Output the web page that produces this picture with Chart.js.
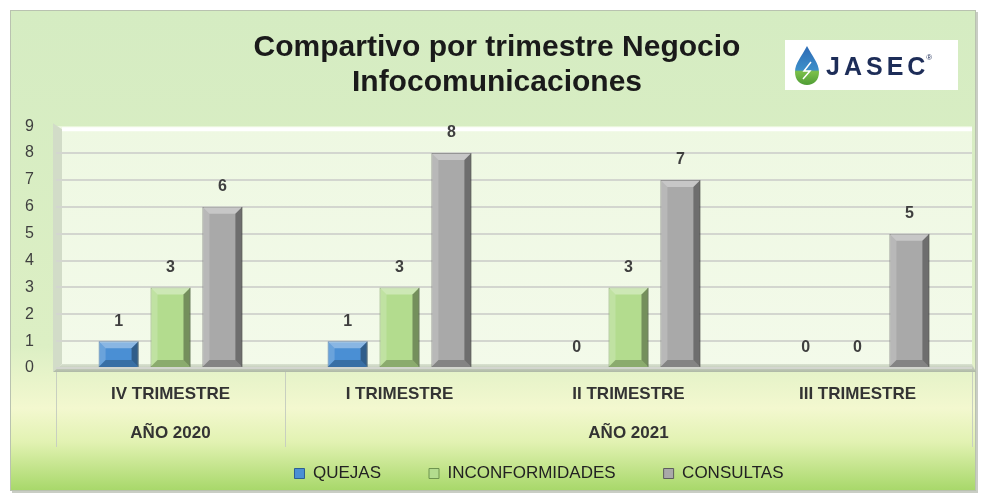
<!DOCTYPE html>
<html>
<head>
<meta charset="utf-8">
<script src="https://cdn.jsdelivr.net/npm/chart.js@4.4.1/dist/chart.umd.min.js"></script>
<style>
  html, body { margin: 0; padding: 0; background: #fff; }
  #wrap { width: 984px; height: 502px; position: relative; }
</style>
</head>
<body>
<div id="wrap"><canvas id="chart"></canvas></div>
<script>
const categories = ['IV TRIMESTRE', 'I TRIMESTRE', 'II TRIMESTRE', 'III TRIMESTRE'];
const years = ['AÑO 2020', 'AÑO 2021'];
const yearSpans = [1, 3]; // trimestres que cubre cada año
const quejas = [1, 1, 0, 0];
const inconformidades = [3, 3, 3, 0];
const consultas = [6, 8, 7, 5];
const yMax = 9;

const blue = '#4a8fd4';
const green = '#b3dc8e';
const gray = '#a9a9a9';
const font = "'Liberation Sans', Arial, sans-serif";

// fondo del marco + pared del grafico
const backdrop = {
  id: 'backdrop',
  afterLayout(chart) {
    // en el original la leyenda no esta centrada
    chart.legend.left += 42;
    chart.legend.right += 42;
  },
  beforeDraw(chart) {
    const c = chart.ctx;
    const a = chart.chartArea;
    c.save();
    c.fillStyle = '#ffffff';
    c.fillRect(0, 0, chart.width, chart.height);
    // sombra del marco
    c.fillStyle = '#c9cdc4';
    c.fillRect(12, 12, 966, 481);
    const g = c.createLinearGradient(0, 10, 0, 490);
    g.addColorStop(0, '#d5ecc2');
    g.addColorStop(0.7, '#dcefc4');
    g.addColorStop(0.83, '#f3f8cf');
    g.addColorStop(0.9, '#e2f2b2');
    g.addColorStop(1, '#a8d86a');
    c.fillStyle = g;
    c.fillRect(10, 10, 965, 480);
    c.strokeStyle = '#b9c2b0';
    c.lineWidth = 1;
    c.strokeRect(10.5, 10.5, 965, 480);

    // pared
    const w = c.createLinearGradient(0, a.top, 0, a.bottom);
    w.addColorStop(0, '#eef8e2');
    w.addColorStop(1, '#f3faea');
    c.fillStyle = w;
    c.fillRect(a.left, a.top, a.right - a.left, a.bottom - a.top);
    // pared izquierda
    c.fillStyle = '#d2dcc8';
    c.beginPath();
    c.moveTo(a.left - 3, a.top - 3);
    c.lineTo(a.left + 6, a.top + 3);
    c.lineTo(a.left + 6, a.bottom - 4);
    c.lineTo(a.left - 3, a.bottom + 4);
    c.closePath();
    c.fill();
    // piso
    const f = c.createLinearGradient(0, a.bottom - 5, 0, a.bottom + 5);
    f.addColorStop(0, '#dfe8d6');
    f.addColorStop(0.5, '#c3ccba');
    f.addColorStop(1, '#a9b3a1');
    c.fillStyle = f;
    c.beginPath();
    c.moveTo(a.left + 6, a.bottom - 4);
    c.lineTo(a.right, a.bottom - 4);
    c.lineTo(a.right + 4, a.bottom + 4);
    c.lineTo(a.left - 3, a.bottom + 4);
    c.closePath();
    c.fill();
    // borde superior blanco
    c.strokeStyle = '#ffffff';
    c.lineWidth = 4;
    c.beginPath();
    c.moveTo(a.left + 6, a.top + 3);
    c.lineTo(a.right, a.top + 3);
    c.stroke();
    c.restore();
  }
};

// relieve de las barras, etiquetas de valor, años y logo
const extras = {
  id: 'extras',
  afterDatasetsDraw(chart) {
    const c = chart.ctx;
    c.save();
    chart.data.datasets.forEach((ds, di) => {
      const meta = chart.getDatasetMeta(di);
      meta.data.forEach((bar, i) => {
        const x0 = bar.x - bar.width / 2;
        const x1 = bar.x + bar.width / 2;
        const y = bar.y;
        const b = bar.base;
        const h = b - y;
        if (h > 4) {
          const d = Math.min(7, h / 2.5);
          c.fillStyle = 'rgba(255,255,255,0.35)';
          c.beginPath();
          c.moveTo(x0, y); c.lineTo(x1, y); c.lineTo(x1 - d, y + d); c.lineTo(x0 + d, y + d);
          c.closePath(); c.fill();
          c.fillStyle = 'rgba(255,255,255,0.18)';
          c.beginPath();
          c.moveTo(x0, y); c.lineTo(x0 + d, y + d); c.lineTo(x0 + d, b - d); c.lineTo(x0, b);
          c.closePath(); c.fill();
          c.fillStyle = 'rgba(0,0,0,0.35)';
          c.beginPath();
          c.moveTo(x1, y); c.lineTo(x1 - d, y + d); c.lineTo(x1 - d, b - d); c.lineTo(x1, b);
          c.closePath(); c.fill();
          c.fillStyle = 'rgba(0,0,0,0.22)';
          c.beginPath();
          c.moveTo(x0, b); c.lineTo(x1, b); c.lineTo(x1 - d, b - d); c.lineTo(x0 + d, b - d);
          c.closePath(); c.fill();
        }
        c.fillStyle = '#3f3f3f';
        c.font = 'bold 16px ' + font;
        c.textAlign = 'center';
        c.textBaseline = 'middle';
        c.fillText(String(ds.data[i]), bar.x, y - 20);
      });
    });
    c.restore();
  },
  afterDraw(chart) {
    const c = chart.ctx;
    const a = chart.chartArea;
    const xs = chart.scales.x;
    c.save();
    // separadores de años y etiquetas de año
    const step = xs.getPixelForValue(1) - xs.getPixelForValue(0);
    let start = 0;
    c.strokeStyle = '#c8cfc0';
    c.lineWidth = 1;
    const edges = [xs.getPixelForValue(0) - step / 2];
    years.forEach((yr, k) => {
      const end = start + yearSpans[k] - 1;
      const left = xs.getPixelForValue(start) - step / 2;
      const right = xs.getPixelForValue(end) + step / 2;
      edges.push(right);
      c.fillStyle = '#333333';
      c.font = 'bold 17px ' + font;
      c.textAlign = 'center';
      c.textBaseline = 'middle';
      c.fillText(yr, (left + right) / 2, a.bottom + 65);
      start = end + 1;
    });
    edges.forEach(ex => {
      const px = Math.round(ex) + 0.5;
      c.beginPath();
      c.moveTo(px, a.bottom + 4);
      c.lineTo(px, a.bottom + 79);
      c.stroke();
    });

    // logo
    c.fillStyle = '#ffffff';
    c.fillRect(785, 40, 173, 50);
    const dg = c.createLinearGradient(0, 50, 0, 86);
    dg.addColorStop(0, '#2f6fb8');
    dg.addColorStop(0.55, '#3c8fc9');
    dg.addColorStop(0.6, '#7cc04a');
    dg.addColorStop(1, '#4c9a34');
    c.fillStyle = dg;
    c.beginPath();
    c.moveTo(807, 46);
    c.bezierCurveTo(802, 56, 795, 63, 795, 72);
    c.bezierCurveTo(795, 80, 800, 85, 807, 85);
    c.bezierCurveTo(814, 85, 819, 80, 819, 72);
    c.bezierCurveTo(819, 63, 812, 56, 807, 46);
    c.closePath();
    c.fill();
    c.strokeStyle = '#ffffff';
    c.lineWidth = 1.5;
    c.beginPath();
    c.moveTo(811, 62); c.lineTo(804, 71); c.lineTo(810, 71); c.lineTo(803, 79);
    c.stroke();
    c.fillStyle = '#1d2d58';
    c.font = 'bold 25px ' + font;
    c.textAlign = 'left';
    c.textBaseline = 'alphabetic';
    c.letterSpacing = '4px';
    c.fillText('JASEC', 826, 75);
    const tw = c.measureText('JASEC').width;
    c.letterSpacing = '0px';
    c.font = '8px ' + font;
    c.fillText('®', 826 + tw - 3, 60);
    c.restore();
  }
};

new Chart(document.getElementById('chart'), {
  type: 'bar',
  data: {
    labels: categories,
    datasets: [
      { label: 'QUEJAS', data: quejas, backgroundColor: blue, borderColor: '#2d5f93', borderWidth: 1 },
      { label: 'INCONFORMIDADES', data: inconformidades, backgroundColor: green, borderColor: '#6e944f', borderWidth: 1 },
      { label: 'CONSULTAS', data: consultas, backgroundColor: gray, borderColor: '#5d5d5d', borderWidth: 1 }
    ]
  },
  options: {
    responsive: true,
    maintainAspectRatio: false,
    animation: false,
    categoryPercentage: 0.68,
    barPercentage: 0.77,
    layout: { padding: { left: 22, right: 12, top: 30, bottom: 10 } },
    plugins: {
      title: {
        display: true,
        text: ['Compartivo por trimestre Negocio', 'Infocomunicaciones'],
        font: { family: font, size: 30, weight: 'bold', lineHeight: 1.17 },
        color: '#1a1a1a',
        padding: { top: 0, bottom: 26 }
      },
      legend: {
        position: 'bottom',
        labels: {
          usePointStyle: true,
          pointStyle: 'rect',
          boxWidth: 10,
          boxHeight: 10,
          padding: 48,
          color: '#222222',
          font: { family: font, size: 17 }
        }
      },
      tooltip: { enabled: false }
    },
    scales: {
      x: {
        grid: { display: false },
        border: { display: false },
        ticks: { color: '#333333', font: { family: font, size: 17, weight: 'bold' }, padding: 8 },
        afterFit(scale) { scale.height = 49; }
      },
      y: {
        min: 0,
        max: yMax,
        grid: {
          color: (ctx) => ctx.tick && ctx.tick.value === yMax ? 'rgba(0,0,0,0)' : '#d3d6cf',
          lineWidth: 2,
          drawTicks: false
        },
        border: { display: false },
        ticks: { stepSize: 1, color: '#404040', font: { family: font, size: 16 }, padding: 22 },
        afterFit(scale) { scale.width = 34; }
      }
    }
  },
  plugins: [backdrop, extras]
});
</script>
</body>
</html>
